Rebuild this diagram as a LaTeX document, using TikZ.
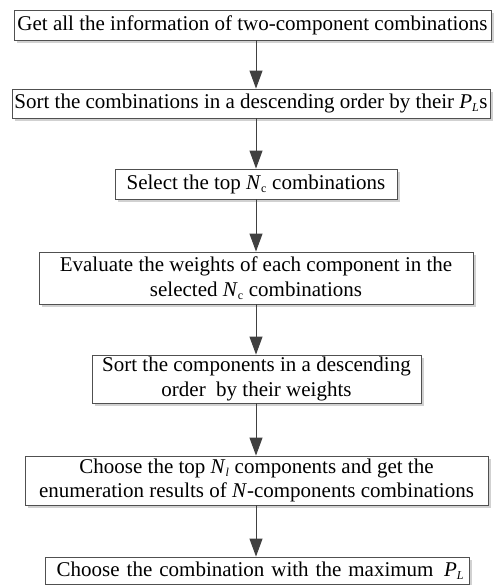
\documentclass[tikz,border=0pt]{standalone}
\usepackage{fontspec}
\setmainfont{Liberation Serif}
\usepackage{tikz}
\usetikzlibrary{shadows,arrows.meta,positioning,calc}
\definecolor{boxgray}{RGB}{80,80,80}
\definecolor{arrgray}{RGB}{64,64,64}

\tikzset{
  stepbox/.style={draw=boxgray, line width=0.9pt, fill=white, align=center,
    inner sep=0pt, font=\fontsize{21}{24.5}\selectfont,
    drop shadow={shadow xshift=3pt, shadow yshift=-3pt, fill=black!18, opacity=1}},
  flow/.style={arrgray, line width=1pt, -{Triangle[length=18pt,width=13pt]}}
}
\newcommand{\lowsub}[1]{\textsubscript{\fontsize{12}{12}\selectfont #1}}

\begin{document}
\begin{tikzpicture}[x=1pt,y=-1pt]
        \useasboundingbox (0,0) rectangle (496,585);

        % steps
        \node[stepbox, minimum width=477pt, minimum height=30pt] (get) at (252.5,25)
          {Get all the information of two-component combinations};
        \node[stepbox, minimum width=478pt, minimum height=29pt] (sortc) at (251,103.5)
          {Sort the combinations in a descending order by their \textit{P}\lowsub{\textit{L}}s};
        \node[stepbox, minimum width=282pt, minimum height=30pt] (sel) at (256,184)
          {Select the top \textit{N}\lowsub{c} combinations};
        \node[stepbox, minimum width=434pt, minimum height=52pt] (eval) at (256,278)
          {Evaluate the weights of each component in the\\ selected \textit{N}\lowsub{c} combinations};
        \node[stepbox, minimum width=329pt, minimum height=48pt] (sortw) at (256.5,379)
          {Sort the components in a descending\\ order\ \ by their weights};
        \node[stepbox, minimum width=463pt, minimum height=49pt] (choose) at (256.5,480.5)
          {Choose the top \textit{N}\lowsub{\textit{l}} components and get the\\ enumeration results of \textit{N}-components combinations};
        \node[stepbox, minimum width=424pt, minimum height=27pt, text width=414pt, align=right] (best) at (257,570.5)
          {Choose the combination with the maximum \,\textit{P}\lowsub{\textit{L}}};

        % arrows
        \draw[flow] (get.south -| sel.south) -- (sortc.north -| sel.north);
        \draw[flow] (sortc.south -| sel.south) -- (sel.north);
        \draw[flow] (sel.south) -- (eval.north);
        \draw[flow] (eval.south) -- (sortw.north -| eval.north);
        \draw[flow] (sortw.south -| eval.south) -- (choose.north -| eval.north);
        \draw[flow] (choose.south -| eval.south) -- (best.north -| eval.north);

      \end{tikzpicture}
\end{document}
